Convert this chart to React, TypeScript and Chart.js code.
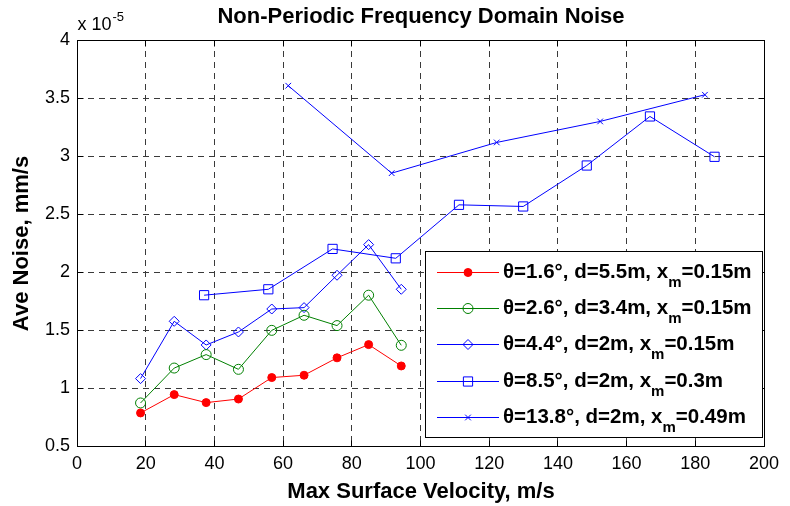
import React, { useEffect, useRef } from 'react';
import { Chart, registerables } from 'chart.js';

Chart.register(...registerables);

const FONT = '"Liberation Sans", Arial, Helvetica, sans-serif';

// ---- data ----
const velocityA = [18.5, 28.3, 37.6, 47.0, 56.7, 66.1, 75.7, 84.9, 94.4];
const noiseTheta16 = [0.785, 0.943, 0.874, 0.905, 1.09, 1.11, 1.26, 1.374, 1.19];
const noiseTheta26 = [0.871, 1.172, 1.288, 1.161, 1.497, 1.627, 1.538, 1.8, 1.368];
const noiseTheta44 = [1.081, 1.575, 1.371, 1.483, 1.681, 1.693, 1.972, 2.236, 1.851];
const velocityB = [37.0, 55.7, 74.4, 92.8, 111.2, 129.9, 148.4, 166.8, 185.6];
const noiseTheta85 = [1.8, 1.851, 2.199, 2.118, 2.579, 2.565, 2.918, 3.341, 2.993];
const velocityC = [61.5, 91.6, 122.2, 152.3, 182.8];
const noiseTheta138 = [3.606, 2.852, 3.117, 3.298, 3.528];

const legendPrefix = [
  'θ=1.6°, d=5.5m, x',
  'θ=2.6°, d=3.4m, x',
  'θ=4.4°, d=2m, x',
  'θ=8.5°, d=2m, x',
  'θ=13.8°, d=2m, x',
];
const legendSub = ['m', 'm', 'm', 'm', 'm'];
const legendSuffix = ['=0.15m', '=0.15m', '=0.15m', '=0.3m', '=0.49m'];

const xTicks = [0, 20, 40, 60, 80, 100, 120, 140, 160, 180, 200];
const yTicks = [0.5, 1, 1.5, 2, 2.5, 3, 3.5, 4];

const titleText = 'Non-Periodic Frequency Domain Noise';
const xTitle = 'Max Surface Velocity, m/s';
const yTitle = 'Ave Noise, mm/s';
const exponentBase = 'x 10';
const exponentPow = '-5';

type Style = { color: string; point: string; radius: number; fill: boolean };
const styles: Style[] = [
  { color: '#ff0000', point: 'circle', radius: 4, fill: true },
  { color: '#008000', point: 'circle', radius: 5, fill: false },
  { color: '#0000ff', point: 'rectRot', radius: 5, fill: false },
  { color: '#0000ff', point: 'rect', radius: 6.5, fill: false },
  { color: '#0000ff', point: 'crossRot', radius: 4, fill: false },
];

const seriesX = [velocityA, velocityA, velocityA, velocityB, velocityC];
const seriesY = [noiseTheta16, noiseTheta26, noiseTheta44, noiseTheta85, noiseTheta138];

function drawMarker(ctx: CanvasRenderingContext2D, s: Style, x: number, y: number) {
  ctx.save();
  ctx.strokeStyle = s.color;
  ctx.fillStyle = s.color;
  ctx.lineWidth = 1;
  ctx.beginPath();
  const r = s.radius;
  if (s.point === 'circle') {
    ctx.arc(x, y, r, 0, Math.PI * 2);
    if (s.fill) ctx.fill();
    ctx.stroke();
  } else if (s.point === 'rectRot') {
    ctx.moveTo(x - r, y);
    ctx.lineTo(x, y - r);
    ctx.lineTo(x + r, y);
    ctx.lineTo(x, y + r);
    ctx.closePath();
    ctx.stroke();
  } else if (s.point === 'rect') {
    const h = r * Math.SQRT1_2;
    ctx.rect(x - h, y - h, 2 * h, 2 * h);
    ctx.stroke();
  } else if (s.point === 'crossRot') {
    const h = r * Math.SQRT1_2;
    ctx.moveTo(x - h, y - h);
    ctx.lineTo(x + h, y + h);
    ctx.moveTo(x - h, y + h);
    ctx.lineTo(x + h, y - h);
    ctx.stroke();
  }
  ctx.restore();
}

const align = (p: number) => Math.round(p - 0.5) + 0.5;

const decorPlugin = {
  id: 'decor',
  afterDraw(chart: any) {
    const ctx: CanvasRenderingContext2D = chart.ctx;
    const xs = chart.scales.x;
    const ys = chart.scales.y;
    const L = align(xs.getPixelForValue(0));
    const R = align(xs.getPixelForValue(200));
    const T = align(ys.getPixelForValue(4));
    const B = align(ys.getPixelForValue(0.5));
    ctx.save();
    // axes box
    ctx.strokeStyle = '#000';
    ctx.lineWidth = 1;
    ctx.setLineDash([]);
    ctx.strokeRect(L, T, R - L, B - T);
    // inward ticks
    ctx.beginPath();
    const tl = 6;
    xTicks.forEach((v) => {
      const p = align(xs.getPixelForValue(v));
      ctx.moveTo(p, B);
      ctx.lineTo(p, B - tl);
      ctx.moveTo(p, T);
      ctx.lineTo(p, T + tl);
    });
    yTicks.forEach((v) => {
      const p = align(ys.getPixelForValue(v));
      ctx.moveTo(L, p);
      ctx.lineTo(L + tl, p);
      ctx.moveTo(R, p);
      ctx.lineTo(R - tl, p);
    });
    ctx.stroke();

    ctx.fillStyle = '#000';
    // title
    ctx.font = `bold 22px ${FONT}`;
    ctx.textAlign = 'center';
    ctx.textBaseline = 'alphabetic';
    ctx.fillText(titleText, (L + R) / 2, 23);
    // x title
    ctx.fillText(xTitle, (L + R) / 2, 498);
    // y title
    ctx.save();
    ctx.translate(28, (T + B) / 2);
    ctx.rotate(-Math.PI / 2);
    ctx.fillText(yTitle, 0, 0);
    ctx.restore();
    // exponent
    ctx.textAlign = 'left';
    ctx.font = `18px ${FONT}`;
    ctx.fillText(exponentBase, L, 30);
    const bw = ctx.measureText(exponentBase).width;
    ctx.font = `13px ${FONT}`;
    ctx.fillText(exponentPow, L + bw + 1, 21);

    // legend
    const lx = 425.5, ly = 251.5, lw = 337, lh = 186;
    ctx.fillStyle = '#fff';
    ctx.fillRect(lx, ly, lw, lh);
    ctx.strokeStyle = '#000';
    ctx.strokeRect(lx, ly, lw, lh);
    styles.forEach((s, i) => {
      const y = Math.round(272 + i * 36.2) + 0.5;
      ctx.strokeStyle = s.color;
      ctx.lineWidth = 1;
      ctx.beginPath();
      ctx.moveTo(437, y);
      ctx.lineTo(499, y);
      ctx.stroke();
      drawMarker(ctx, s, 468, y);
      ctx.fillStyle = '#000';
      ctx.textBaseline = 'middle';
      ctx.textAlign = 'left';
      ctx.font = `bold 20.5px ${FONT}`;
      const x0 = 503;
      ctx.fillText(legendPrefix[i], x0, y);
      const w1 = ctx.measureText(legendPrefix[i]).width;
      ctx.font = `bold 15px ${FONT}`;
      ctx.fillText(legendSub[i], x0 + w1, y + 10);
      const w2 = ctx.measureText(legendSub[i]).width;
      ctx.font = `bold 20.5px ${FONT}`;
      ctx.fillText(legendSuffix[i], x0 + w1 + w2, y);
    });
    ctx.restore();
  },
};

export default function App() {
  const ref = useRef<HTMLCanvasElement>(null);
  useEffect(() => {
    const datasets = styles.map((s, i) => ({
      label: legendPrefix[i] + legendSub[i] + legendSuffix[i],
      data: seriesX[i].map((x, j) => ({ x, y: seriesY[i][j] })),
      showLine: true,
      borderColor: s.color,
      borderWidth: 1,
      backgroundColor: s.color,
      pointStyle: s.point,
      pointRadius: s.radius,
      pointHoverRadius: s.radius,
      pointBorderColor: s.color,
      pointBackgroundColor: s.fill ? s.color : 'rgba(0,0,0,0)',
      pointBorderWidth: 1,
      tension: 0,
    }));
    const gridCommon = { color: '#3a3a3a', lineWidth: 1, drawTicks: false };
    const chart = new Chart(ref.current as HTMLCanvasElement, {
      type: 'scatter',
      data: { datasets } as any,
      options: {
        responsive: false,
        animation: false,
        devicePixelRatio: 1,
        events: [],
        layout: { padding: { top: 40, right: 26, left: 0, bottom: 0 } },
        plugins: { legend: { display: false }, tooltip: { enabled: false }, title: { display: false } },
        scales: {
          x: {
            type: 'linear',
            min: 0,
            max: 200,
            afterFit: (s: any) => { s.height = 60; },
            afterBuildTicks: (s: any) => { s.ticks = xTicks.map((v) => ({ value: v })); },
            ticks: { stepSize: 20, color: '#000', font: { family: FONT, size: 18 }, padding: 7, maxRotation: 0, autoSkip: false },
            grid: gridCommon,
            border: { display: false, dash: [6, 5] },
          },
          y: {
            type: 'linear',
            min: 0.5,
            max: 4,
            afterFit: (s: any) => { s.width = 77; },
            afterBuildTicks: (s: any) => { s.ticks = yTicks.map((v) => ({ value: v })); },
            ticks: { stepSize: 0.5, color: '#000', font: { family: FONT, size: 18 }, padding: 7, callback: (v: any) => String(v) },
            grid: gridCommon,
            border: { display: false, dash: [6, 5] },
          },
        },
      } as any,
      plugins: [decorPlugin],
    });
    return () => chart.destroy();
  }, []);
  return (
    <div style={{ position: 'absolute', left: 0, top: 0, width: 790, height: 506, background: '#fff' }}>
      <canvas ref={ref} width={790} height={506} style={{ display: 'block', width: 790, height: 506 }} />
    </div>
  );
}
